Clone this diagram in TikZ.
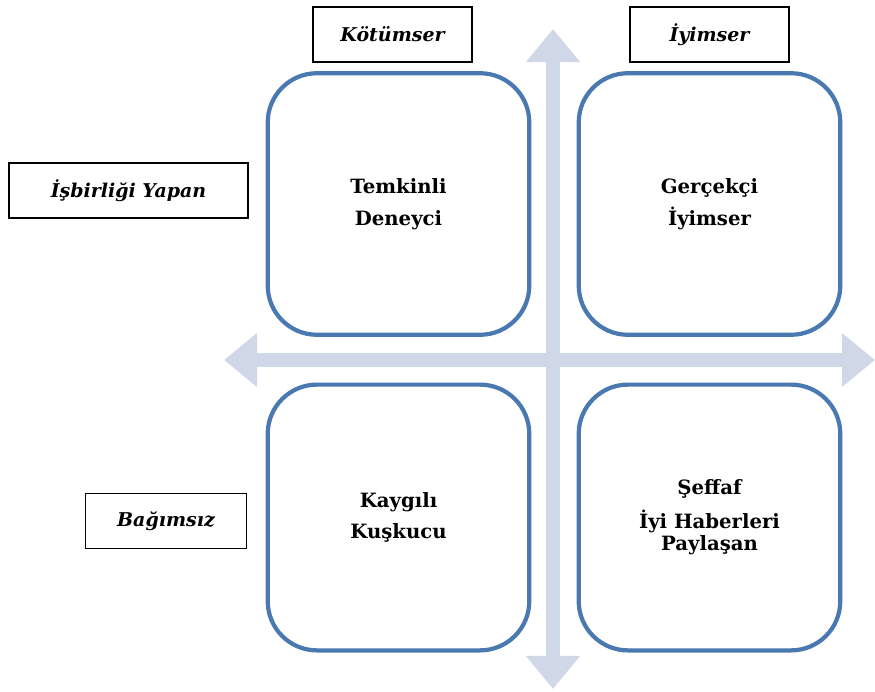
\documentclass[tikz,border=0pt]{standalone}
\usepackage{fontspec}
\setmainfont{DejaVu Serif}
\usetikzlibrary{arrows.meta}

\definecolor{kutublau}{HTML}{4A78B0}
\definecolor{achsgrau}{HTML}{D0D8E8}

\tikzset{
	feld/.style={draw=kutublau, line width=3pt, rounded corners=35pt, align=center,
		minimum width=186pt, font=\fontsize{14}{16}\selectfont\bfseries},
	etikett/.style={draw, line width=0.9pt, minimum height=39pt,
		font=\fontsize{13.5}{16}\selectfont\bfseries\itshape},
	achse/.style={achsgrau, line width=10pt,
		{Triangle[width=37pt,length=23.5pt]}-{Triangle[width=37pt,length=23.5pt]}}
}

\begin{document}
\begin{tikzpicture}[x=0.025cm, y=-0.025cm]
		\useasboundingbox (0,0) rectangle (875,691);
		
		% Achsen
		\coordinate (oben) at (553,29);
		\coordinate (unten) at (553,689);
		\coordinate (links) at (224,360);
		\coordinate (rechts) at (875,360);
		\draw[achse] (unten) -- (oben);
		\draw[achse] (links) -- (rechts);
		
		% Vier Felder
		\node[feld, minimum height=186pt] (temkinli) at (398.5,204) {Temkinli\\[6.5pt]Deneyci};
		\node[feld, minimum height=186pt] (gercekci) at (709.5,204) {Gerçekçi\\[6.5pt]İyimser};
		\node[feld, minimum height=189pt] (kaygili) at (398.5,517.5) {Kaygılı\\[6.5pt]Kuşkucu};
		\node[feld, minimum height=189pt] (seffaf) at (709.5,517.5) {Şeffaf\\[8pt]İyi Haberleri\\Paylaşan};
		
		% Beschriftungen
		\node[etikett, minimum width=113pt] (kotumser) at (392.5,34.5) {Kötümser};
		\node[etikett, minimum width=113pt] (iyimser) at (709.5,34.5) {İyimser};
		\node[etikett, minimum width=170pt] (isbirligi) at (128.5,190.5) {İşbirliği Yapan};
		\node[etikett, minimum width=114pt] (bagimsiz) at (166,521) {Bağımsız};
	\end{tikzpicture}
\end{document}
